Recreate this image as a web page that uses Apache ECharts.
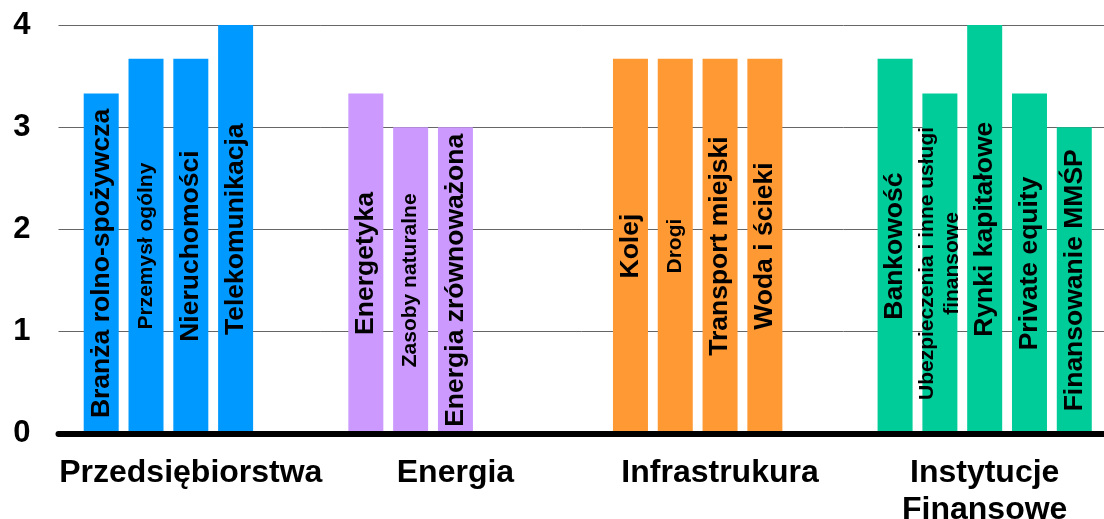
<!DOCTYPE html>
<html>
<head>
<meta charset="utf-8">
<script src="https://cdn.jsdelivr.net/npm/echarts@6/dist/echarts.min.js"></script>
<style>
  html, body { margin: 0; padding: 0; background: #fff; }
  #chart { width: 1104px; height: 519px; }
</style>
</head>
<body>
<div id="chart"></div>
<script>
// grupy sektorów (oś X)
const categories = ['Przedsiębiorstwa', 'Energia', 'Infrastrukura', 'Instytucje\nFinansowe'];

// kolejne słupki w grupie (pozycja 1..5), null = brak słupka
const slot1Values = [3.33, 3.33, 3.67, 3.67];
const slot2Values = [3.67, 3, 3.67, 3.33];
const slot3Values = [3.67, 3, 3.67, 4];
const slot4Values = [4, null, 3.67, 3.33];
const slot5Values = [null, null, null, 3];

const slot1Names = ['Branża rolno-spożywcza', 'Energetyka', 'Kolej', 'Bankowość'];
const slot2Names = ['Przemysł ogólny', 'Zasoby naturalne', 'Drogi', 'Ubezpieczenia i inne usługi\nfinansowe'];
const slot3Names = ['Nieruchomości', 'Energia zrównoważona', 'Transport miejski', 'Rynki kapitałowe'];
const slot4Names = ['Telekomunikacja', null, 'Woda i ścieki', 'Private equity'];
const slot5Names = [null, null, null, 'Finansowanie MMŚP'];

const yTicks = [0, 1, 2, 3, 4];

const groupColors = ['#0099FF', '#CC99FF', '#FF9933', '#00CC99'];
const fontFamily = '"Liberation Sans", Arial, sans-serif';

const slots = [
  { values: slot1Values, names: slot1Names, fontSize: 26.5 },
  { values: slot2Values, names: slot2Names, fontSize: 21 },
  { values: slot3Values, names: slot3Names, fontSize: 26.5 },
  { values: slot4Values, names: slot4Names, fontSize: 26.5 },
  { values: slot5Values, names: slot5Names, fontSize: 26.5 },
];

const chart = echarts.init(document.getElementById('chart'));

chart.setOption({
  animation: false,
  textStyle: { fontFamily },
  grid: {
    left: 58.5,
    right: -13,
    top: 25,
    bottom: 85.5,
    containLabel: false,
    outerBoundsMode: 'none',
  },
  xAxis: {
    type: 'category',
    data: categories,
    z: 5,
    axisLine: {
      lineStyle: { color: '#000', width: 6 },
    },
    axisTick: { show: false },
    axisLabel: {
      color: '#000',
      fontSize: 32,
      fontWeight: 'bold',
      fontFamily,
      lineHeight: 37,
      margin: 21,
      interval: 0,
    },
  },
  yAxis: {
    type: 'value',
    min: yTicks[0],
    max: yTicks[yTicks.length - 1],
    interval: 1,
    axisLine: { show: false },
    axisTick: { show: false },
    splitLine: {
      lineStyle: { color: '#666', width: 1 },
    },
    axisLabel: {
      color: '#000',
      fontSize: 31,
      fontWeight: 'bold',
      fontFamily,
      margin: 28,
    },
  },
  series: slots.map(slot => ({
    type: 'bar',
    data: slot.values,
    barWidth: 35,
    barGap: '28%',
    itemStyle: {
      color: p => groupColors[p.dataIndex],
    },
    label: {
      show: true,
      position: 'inside',
      rotate: 90,
      color: '#000',
      fontWeight: 'bold',
      fontFamily,
      fontSize: slot.fontSize,
      lineHeight: slot.fontSize + 4,
      formatter: p => slot.names[p.dataIndex] || '',
    },
  })),
});
</script>
</body>
</html>
